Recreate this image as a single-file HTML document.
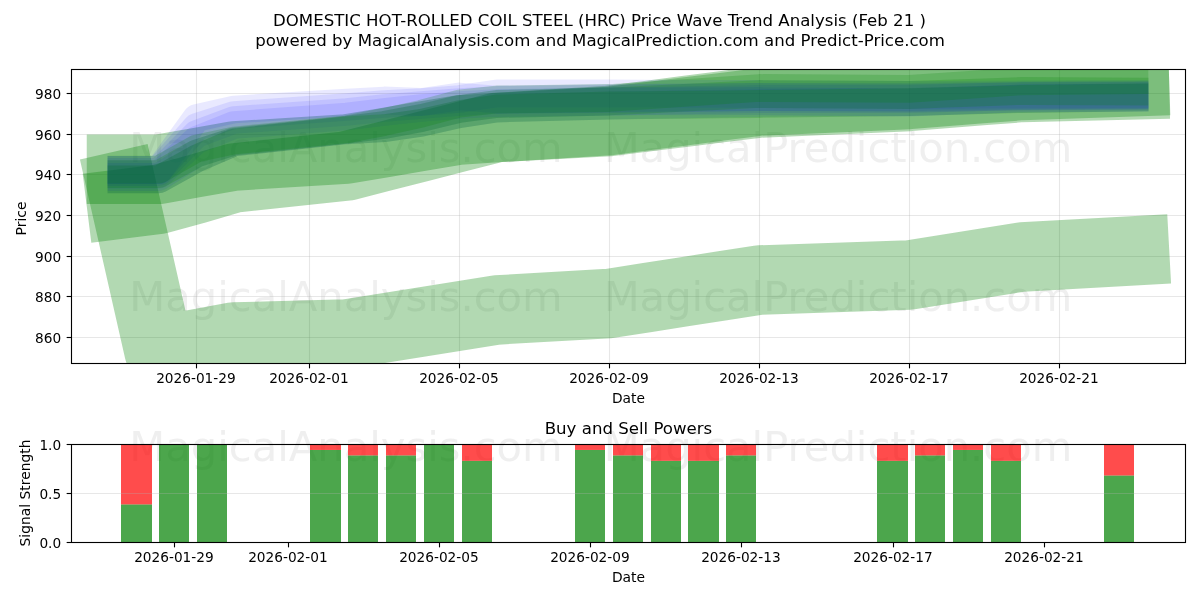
<!DOCTYPE html>
<html lang="en"><head><meta charset="utf-8"><title>DOMESTIC HOT-ROLLED COIL STEEL (HRC) Price Wave Trend Analysis</title>
<style>html,body{margin:0;padding:0;background:#fff;overflow:hidden}svg{display:block}</style></head>
<body>
<svg width="1200" height="600" viewBox="0 0 1200 600" font-family="'DejaVu Sans', 'Liberation Sans', sans-serif">
<rect width="1200" height="600" fill="#fff"/>
<defs><clipPath id="c1"><rect x="71.5" y="69.5" width="1114.0" height="294.0"/></clipPath><clipPath id="c2"><rect x="71.5" y="444.5" width="1114.0" height="98.0"/></clipPath></defs>
<text x="346" y="162" font-size="41.67" text-anchor="middle" fill="#808080" fill-opacity="0.13">MagicalAnalysis.com</text>
<text x="838" y="162" font-size="41.67" text-anchor="middle" fill="#808080" fill-opacity="0.13">MagicalPrediction.com</text>
<text x="346" y="311" font-size="41.67" text-anchor="middle" fill="#808080" fill-opacity="0.13">MagicalAnalysis.com</text>
<text x="838" y="311" font-size="41.67" text-anchor="middle" fill="#808080" fill-opacity="0.13">MagicalPrediction.com</text>
<text x="346" y="461" font-size="41.67" text-anchor="middle" fill="#808080" fill-opacity="0.13">MagicalAnalysis.com</text>
<text x="838" y="461" font-size="41.67" text-anchor="middle" fill="#808080" fill-opacity="0.13">MagicalPrediction.com</text>
<line x1="196.5" y1="69.5" x2="196.5" y2="363.5" stroke="#b0b0b0" stroke-opacity="0.3" stroke-width="1.11"/>
<line x1="309.5" y1="69.5" x2="309.5" y2="363.5" stroke="#b0b0b0" stroke-opacity="0.3" stroke-width="1.11"/>
<line x1="459.5" y1="69.5" x2="459.5" y2="363.5" stroke="#b0b0b0" stroke-opacity="0.3" stroke-width="1.11"/>
<line x1="609.5" y1="69.5" x2="609.5" y2="363.5" stroke="#b0b0b0" stroke-opacity="0.3" stroke-width="1.11"/>
<line x1="759.5" y1="69.5" x2="759.5" y2="363.5" stroke="#b0b0b0" stroke-opacity="0.3" stroke-width="1.11"/>
<line x1="909.5" y1="69.5" x2="909.5" y2="363.5" stroke="#b0b0b0" stroke-opacity="0.3" stroke-width="1.11"/>
<line x1="1059.5" y1="69.5" x2="1059.5" y2="363.5" stroke="#b0b0b0" stroke-opacity="0.3" stroke-width="1.11"/>
<line x1="71.5" y1="337.5" x2="1185.5" y2="337.5" stroke="#b0b0b0" stroke-opacity="0.3" stroke-width="1.11"/>
<line x1="71.5" y1="296.5" x2="1185.5" y2="296.5" stroke="#b0b0b0" stroke-opacity="0.3" stroke-width="1.11"/>
<line x1="71.5" y1="256.5" x2="1185.5" y2="256.5" stroke="#b0b0b0" stroke-opacity="0.3" stroke-width="1.11"/>
<line x1="71.5" y1="215.5" x2="1185.5" y2="215.5" stroke="#b0b0b0" stroke-opacity="0.3" stroke-width="1.11"/>
<line x1="71.5" y1="174.5" x2="1185.5" y2="174.5" stroke="#b0b0b0" stroke-opacity="0.3" stroke-width="1.11"/>
<line x1="71.5" y1="134.5" x2="1185.5" y2="134.5" stroke="#b0b0b0" stroke-opacity="0.3" stroke-width="1.11"/>
<line x1="71.5" y1="93.5" x2="1185.5" y2="93.5" stroke="#b0b0b0" stroke-opacity="0.3" stroke-width="1.11"/>
<g clip-path="url(#c1)">
<polyline points="121.46,185.6 158.98,350.8 196.5,343.9 234.02,337 346.58,334 384.1,328 421.62,322 459.14,316 496.66,310 609.22,303.5 646.74,297.62 684.26,291.75 721.78,285.88 759.3,280 909.38,275 946.9,269 984.42,263 1021.94,257 1134.5,250.8" fill="none" stroke="#008000" stroke-opacity="0.3" stroke-width="69.44" stroke-linecap="square" stroke-linejoin="round"/>
<polyline points="121.46,169.3 158.98,169.3 196.5,162.6 234.02,156 346.58,149 384.1,142.67 421.62,136.33 459.14,130 496.66,127.6 609.22,120.5 646.74,115.62 684.26,110.75 721.78,105.88 759.3,101 909.38,94.5 946.9,91.5 984.42,88.5 1021.94,85.5 1134.5,81.8" fill="none" stroke="#008000" stroke-opacity="0.3" stroke-width="69.44" stroke-linecap="square" stroke-linejoin="round"/>
<polyline points="121.46,204 158.98,199.3 196.5,189 234.02,178 346.58,166 384.1,156.38 421.62,146.75 459.14,137.12 496.66,127.5 609.22,121.5 646.74,116.88 684.26,112.25 721.78,107.62 759.3,103 909.38,96.5 946.9,93.5 984.42,90.5 1021.94,87.5 1134.5,84.8" fill="none" stroke="#008000" stroke-opacity="0.3" stroke-width="69.44" stroke-linecap="square" stroke-linejoin="round"/>
<polyline points="121.46,170 158.98,170 196.5,118 234.02,109.5 346.58,102.5 384.1,100.5 421.62,102 459.14,96.5 496.66,99.5 609.22,99 646.74,98.5 684.26,98 721.78,97.5 759.3,97 909.38,97 946.9,96.5 984.42,96 1021.94,95.5 1134.5,95" fill="none" stroke="#0000ff" stroke-opacity="0.085" stroke-width="27.78" stroke-linecap="square" stroke-linejoin="round"/>
<polyline points="121.46,170 158.98,170 196.5,127 234.02,115 346.58,107 384.1,104 421.62,102 459.14,99 496.66,93.5 609.22,93.5 646.74,93.62 684.26,93.75 721.78,93.88 759.3,94 909.38,95 946.9,94.83 984.42,94.67 1021.94,94.5 1134.5,94" fill="none" stroke="#0000ff" stroke-opacity="0.085" stroke-width="27.78" stroke-linecap="square" stroke-linejoin="round"/>
<polyline points="121.46,172 158.98,172 196.5,134 234.02,120 346.58,112 384.1,108 421.62,105 459.14,102 496.66,100 609.22,98 646.74,97.75 684.26,97.5 721.78,97.25 759.3,97 909.38,98 946.9,97.5 984.42,97 1021.94,96.5 1134.5,96" fill="none" stroke="#0000ff" stroke-opacity="0.085" stroke-width="27.78" stroke-linecap="square" stroke-linejoin="round"/>
<polyline points="121.46,174.5 158.98,174.5 196.5,140 234.02,125 346.58,116.5 384.1,112 421.62,108 459.14,105 496.66,103 609.22,101.5 646.74,101.38 684.26,101.25 721.78,101.12 759.3,101 909.38,102.5 946.9,101.17 984.42,99.83 1021.94,98.5 1134.5,97.5" fill="none" stroke="#0000ff" stroke-opacity="0.085" stroke-width="27.78" stroke-linecap="square" stroke-linejoin="round"/>
<polyline points="121.46,177 158.98,177 196.5,153.5 234.02,141.5 346.58,129.8 384.1,125 421.62,118 459.14,109 496.66,104 609.22,101.5 646.74,100.88 684.26,100.25 721.78,99.62 759.3,99 909.38,99 946.9,98 984.42,97 1021.94,96 1134.5,95.5" fill="none" stroke="#0000ff" stroke-opacity="0.085" stroke-width="27.78" stroke-linecap="square" stroke-linejoin="round"/>
<polyline points="121.46,179.4 158.98,179.4 196.5,158.6 234.02,142.5 346.58,130.3 384.1,128.2 421.62,122.8 459.14,114.3 496.66,108.5 609.22,105.5 646.74,104.88 684.26,104.25 721.78,103.62 759.3,103 909.38,102 946.9,100.83 984.42,99.67 1021.94,98.5 1134.5,97.6" fill="none" stroke="#0000ff" stroke-opacity="0.085" stroke-width="27.78" stroke-linecap="square" stroke-linejoin="round"/>
<polyline points="121.46,169.65 158.98,169.65 196.5,148.5 234.02,140.5 346.58,129.3 384.1,122 421.62,113.7 459.14,103.6 496.66,99.5 609.22,98 646.74,95.5 684.26,93 721.78,90.5 759.3,88 909.38,88.8 946.9,86.3 984.42,83.8 1021.94,81.3 1134.5,80.3" fill="none" stroke="#008000" stroke-opacity="0.2" stroke-width="27.78" stroke-linecap="square" stroke-linejoin="round"/>
<polyline points="121.46,174.15 158.98,174.15 196.5,153.5 234.02,141.5 346.58,129.8 384.1,125 421.62,118 459.14,109 496.66,104 609.22,101.5 646.74,99.62 684.26,97.75 721.78,95.88 759.3,94 909.38,95 946.9,93.67 984.42,92.33 1021.94,91 1134.5,91.6" fill="none" stroke="#008000" stroke-opacity="0.2" stroke-width="27.78" stroke-linecap="square" stroke-linejoin="round"/>
<polyline points="121.46,179.4 158.98,179.4 196.5,158.6 234.02,142.5 346.58,130.3 384.1,128.2 421.62,122.8 459.14,114.3 496.66,108.5 609.22,105.5 646.74,105.12 684.26,104.75 721.78,104.38 759.3,104 909.38,102.2 946.9,101.13 984.42,100.07 1021.94,99 1134.5,97.6" fill="none" stroke="#008000" stroke-opacity="0.2" stroke-width="27.78" stroke-linecap="square" stroke-linejoin="round"/>
</g>
<line x1="196.5" y1="363.5" x2="196.5" y2="368.36" stroke="#000" stroke-width="1.11"/>
<text x="195.9" y="383.3" font-size="13.7" text-anchor="middle">2026-01-29</text>
<line x1="309.5" y1="363.5" x2="309.5" y2="368.36" stroke="#000" stroke-width="1.11"/>
<text x="308.9" y="383.3" font-size="13.7" text-anchor="middle">2026-02-01</text>
<line x1="459.5" y1="363.5" x2="459.5" y2="368.36" stroke="#000" stroke-width="1.11"/>
<text x="458.9" y="383.3" font-size="13.7" text-anchor="middle">2026-02-05</text>
<line x1="609.5" y1="363.5" x2="609.5" y2="368.36" stroke="#000" stroke-width="1.11"/>
<text x="608.9" y="383.3" font-size="13.7" text-anchor="middle">2026-02-09</text>
<line x1="759.5" y1="363.5" x2="759.5" y2="368.36" stroke="#000" stroke-width="1.11"/>
<text x="758.9" y="383.3" font-size="13.7" text-anchor="middle">2026-02-13</text>
<line x1="909.5" y1="363.5" x2="909.5" y2="368.36" stroke="#000" stroke-width="1.11"/>
<text x="908.9" y="383.3" font-size="13.7" text-anchor="middle">2026-02-17</text>
<line x1="1059.5" y1="363.5" x2="1059.5" y2="368.36" stroke="#000" stroke-width="1.11"/>
<text x="1058.9" y="383.3" font-size="13.7" text-anchor="middle">2026-02-21</text>
<line x1="66.64" y1="337.5" x2="71.5" y2="337.5" stroke="#000" stroke-width="1.11"/>
<text x="61.18" y="342.70" font-size="13.7" text-anchor="end">860</text>
<line x1="66.64" y1="296.5" x2="71.5" y2="296.5" stroke="#000" stroke-width="1.11"/>
<text x="61.18" y="301.70" font-size="13.7" text-anchor="end">880</text>
<line x1="66.64" y1="256.5" x2="71.5" y2="256.5" stroke="#000" stroke-width="1.11"/>
<text x="61.18" y="261.70" font-size="13.7" text-anchor="end">900</text>
<line x1="66.64" y1="215.5" x2="71.5" y2="215.5" stroke="#000" stroke-width="1.11"/>
<text x="61.18" y="220.70" font-size="13.7" text-anchor="end">920</text>
<line x1="66.64" y1="174.5" x2="71.5" y2="174.5" stroke="#000" stroke-width="1.11"/>
<text x="61.18" y="179.70" font-size="13.7" text-anchor="end">940</text>
<line x1="66.64" y1="134.5" x2="71.5" y2="134.5" stroke="#000" stroke-width="1.11"/>
<text x="61.18" y="139.70" font-size="13.7" text-anchor="end">960</text>
<line x1="66.64" y1="93.5" x2="71.5" y2="93.5" stroke="#000" stroke-width="1.11"/>
<text x="61.18" y="98.70" font-size="13.7" text-anchor="end">980</text>
<rect x="71.5" y="69.5" width="1114.0" height="294.0" fill="none" stroke="#000" stroke-width="1.11"/>
<text x="628.5" y="402.6" font-size="13.8" text-anchor="middle">Date</text>
<text transform="translate(26.2,218.5) rotate(-90)" font-size="13.89" text-anchor="middle">Price</text>
<g clip-path="url(#c2)">
<rect x="121" y="504.39" width="31" height="38.11" fill="#008000" fill-opacity="0.7"/>
<rect x="121" y="444.5" width="31" height="59.89" fill="#ff0000" fill-opacity="0.7"/>
<rect x="159" y="444.5" width="30" height="98" fill="#008000" fill-opacity="0.7"/>
<rect x="197" y="444.5" width="30" height="98" fill="#008000" fill-opacity="0.7"/>
<rect x="310" y="449.94" width="31" height="92.56" fill="#008000" fill-opacity="0.7"/>
<rect x="310" y="444.5" width="31" height="5.44" fill="#ff0000" fill-opacity="0.7"/>
<rect x="348" y="455.39" width="30" height="87.11" fill="#008000" fill-opacity="0.7"/>
<rect x="348" y="444.5" width="30" height="10.89" fill="#ff0000" fill-opacity="0.7"/>
<rect x="386" y="455.39" width="30" height="87.11" fill="#008000" fill-opacity="0.7"/>
<rect x="386" y="444.5" width="30" height="10.89" fill="#ff0000" fill-opacity="0.7"/>
<rect x="424" y="444.5" width="30" height="98" fill="#008000" fill-opacity="0.7"/>
<rect x="462" y="460.83" width="30" height="81.67" fill="#008000" fill-opacity="0.7"/>
<rect x="462" y="444.5" width="30" height="16.33" fill="#ff0000" fill-opacity="0.7"/>
<rect x="575" y="449.94" width="30" height="92.56" fill="#008000" fill-opacity="0.7"/>
<rect x="575" y="444.5" width="30" height="5.44" fill="#ff0000" fill-opacity="0.7"/>
<rect x="613" y="455.39" width="30" height="87.11" fill="#008000" fill-opacity="0.7"/>
<rect x="613" y="444.5" width="30" height="10.89" fill="#ff0000" fill-opacity="0.7"/>
<rect x="651" y="460.83" width="30" height="81.67" fill="#008000" fill-opacity="0.7"/>
<rect x="651" y="444.5" width="30" height="16.33" fill="#ff0000" fill-opacity="0.7"/>
<rect x="688" y="460.83" width="31" height="81.67" fill="#008000" fill-opacity="0.7"/>
<rect x="688" y="444.5" width="31" height="16.33" fill="#ff0000" fill-opacity="0.7"/>
<rect x="726" y="455.39" width="30" height="87.11" fill="#008000" fill-opacity="0.7"/>
<rect x="726" y="444.5" width="30" height="10.89" fill="#ff0000" fill-opacity="0.7"/>
<rect x="877" y="460.83" width="31" height="81.67" fill="#008000" fill-opacity="0.7"/>
<rect x="877" y="444.5" width="31" height="16.33" fill="#ff0000" fill-opacity="0.7"/>
<rect x="915" y="455.39" width="30" height="87.11" fill="#008000" fill-opacity="0.7"/>
<rect x="915" y="444.5" width="30" height="10.89" fill="#ff0000" fill-opacity="0.7"/>
<rect x="953" y="449.94" width="30" height="92.56" fill="#008000" fill-opacity="0.7"/>
<rect x="953" y="444.5" width="30" height="5.44" fill="#ff0000" fill-opacity="0.7"/>
<rect x="991" y="460.83" width="30" height="81.67" fill="#008000" fill-opacity="0.7"/>
<rect x="991" y="444.5" width="30" height="16.33" fill="#ff0000" fill-opacity="0.7"/>
<rect x="1104" y="475.48" width="30" height="67.02" fill="#008000" fill-opacity="0.7"/>
<rect x="1104" y="444.5" width="30" height="30.98" fill="#ff0000" fill-opacity="0.7"/>
</g>
<line x1="71.5" y1="542.5" x2="1185.5" y2="542.5" stroke="#b0b0b0" stroke-opacity="0.3" stroke-width="1.11"/>
<line x1="71.5" y1="493.5" x2="1185.5" y2="493.5" stroke="#b0b0b0" stroke-opacity="0.3" stroke-width="1.11"/>
<line x1="71.5" y1="444.5" x2="1185.5" y2="444.5" stroke="#b0b0b0" stroke-opacity="0.3" stroke-width="1.11"/>
<line x1="174.5" y1="542.5" x2="174.5" y2="547.36" stroke="#000" stroke-width="1.11"/>
<text x="173.9" y="561.65" font-size="13.7" text-anchor="middle">2026-01-29</text>
<line x1="288.5" y1="542.5" x2="288.5" y2="547.36" stroke="#000" stroke-width="1.11"/>
<text x="287.9" y="561.65" font-size="13.7" text-anchor="middle">2026-02-01</text>
<line x1="439.5" y1="542.5" x2="439.5" y2="547.36" stroke="#000" stroke-width="1.11"/>
<text x="438.9" y="561.65" font-size="13.7" text-anchor="middle">2026-02-05</text>
<line x1="590.5" y1="542.5" x2="590.5" y2="547.36" stroke="#000" stroke-width="1.11"/>
<text x="589.9" y="561.65" font-size="13.7" text-anchor="middle">2026-02-09</text>
<line x1="741.5" y1="542.5" x2="741.5" y2="547.36" stroke="#000" stroke-width="1.11"/>
<text x="740.9" y="561.65" font-size="13.7" text-anchor="middle">2026-02-13</text>
<line x1="893.5" y1="542.5" x2="893.5" y2="547.36" stroke="#000" stroke-width="1.11"/>
<text x="892.9" y="561.65" font-size="13.7" text-anchor="middle">2026-02-17</text>
<line x1="1044.5" y1="542.5" x2="1044.5" y2="547.36" stroke="#000" stroke-width="1.11"/>
<text x="1043.9" y="561.65" font-size="13.7" text-anchor="middle">2026-02-21</text>
<line x1="66.64" y1="542.5" x2="71.5" y2="542.5" stroke="#000" stroke-width="1.11"/>
<text x="61.18" y="547.70" font-size="13.7" text-anchor="end">0.0</text>
<line x1="66.64" y1="493.5" x2="71.5" y2="493.5" stroke="#000" stroke-width="1.11"/>
<text x="61.18" y="498.70" font-size="13.7" text-anchor="end">0.5</text>
<line x1="66.64" y1="444.5" x2="71.5" y2="444.5" stroke="#000" stroke-width="1.11"/>
<text x="61.18" y="449.70" font-size="13.7" text-anchor="end">1.0</text>
<rect x="71.5" y="444.5" width="1114.0" height="98.0" fill="none" stroke="#000" stroke-width="1.11"/>
<text x="628.5" y="582" font-size="13.89" text-anchor="middle">Date</text>
<text transform="translate(30.2,493) rotate(-90)" font-size="13.89" text-anchor="middle">Signal Strength</text>
<text x="628.5" y="434.4" font-size="16.6" text-anchor="middle">Buy and Sell Powers</text>
<text x="599.5" y="25.5" font-size="16.6" text-anchor="middle">DOMESTIC HOT-ROLLED COIL STEEL (HRC) Price Wave Trend Analysis (Feb 21 )</text>
<text x="600" y="46.4" font-size="16.6" text-anchor="middle">powered by MagicalAnalysis.com and MagicalPrediction.com and Predict-Price.com</text>
</svg>
</body></html>
